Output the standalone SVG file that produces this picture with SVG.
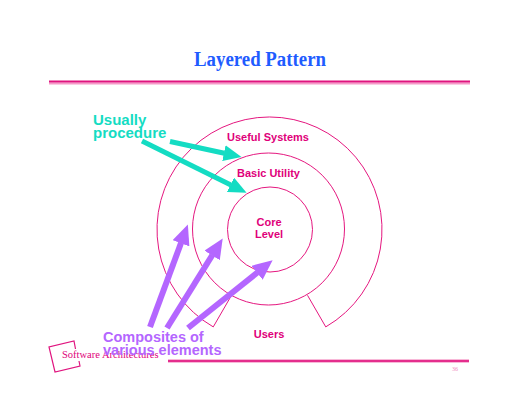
<svg xmlns="http://www.w3.org/2000/svg" width="520" height="402" viewBox="0 0 520 402">
<style>
.ring{fill:none;stroke:#e5177f;stroke-width:1}
.lbl{font-family:"Liberation Sans",Arial,sans-serif;font-weight:bold;font-size:11px;fill:#e0007a;text-anchor:middle}
.cy{font-family:"Liberation Sans",Arial,sans-serif;font-weight:bold;font-size:15px;fill:#14dcc3}
.pu{font-family:"Liberation Sans",Arial,sans-serif;font-weight:bold;font-size:14.5px;fill:#b466ff}
.cyl{stroke:#14dcc3;stroke-width:5;fill:none}
.pul{stroke:#b466ff;stroke-width:6;fill:none}
</style>
<defs>
<marker id="hc" markerUnits="userSpaceOnUse" viewBox="0 0 18 16" refX="0.5" refY="8" markerWidth="18" markerHeight="16" orient="auto"><path d="M0,0 L18,8 L0,16 z" fill="#14dcc3"/></marker>
<marker id="hp" markerUnits="userSpaceOnUse" viewBox="0 0 20 18" refX="0.5" refY="9" markerWidth="20" markerHeight="18" orient="auto"><path d="M0,0 L20,9 L0,18 z" fill="#b466ff"/></marker>
</defs>
<rect width="520" height="402" fill="#ffffff"/>
<g id="header">
<text x="260" y="66" font-family="'Liberation Serif','Times New Roman',serif" font-weight="bold" font-size="20" fill="#1f5cff" text-anchor="middle" textLength="132" lengthAdjust="spacingAndGlyphs">Layered Pattern</text>
<rect x="49" y="80.5" width="421" height="2.2" fill="#e0147f"/>
<rect x="49" y="82.7" width="421" height="1.8" fill="#f59ac8"/>
</g>
<g id="useful-systems">
<path class="ring" d="M213.25 326.9 A112.5 112.5 0 1 1 325.75 326.9 L307.5 295.3 M231.5 295.3 L213.25 326.9"/>
<text class="lbl" x="268" y="141">Useful Systems</text>
</g>
<g id="basic-utility">
<circle class="ring" cx="268.5" cy="229" r="76"/>
<text class="lbl" x="268.5" y="176.5">Basic Utility</text>
</g>
<g id="core-level">
<circle class="ring" cx="270" cy="229.5" r="42.5"/>
<text class="lbl" x="269" y="226">Core</text>
<text class="lbl" x="269" y="238">Level</text>
</g>
<g id="users">
<text class="lbl" x="269" y="337.5">Users</text>
</g>
<g id="connectors">
<line class="cyl" x1="170" y1="141.5" x2="224.4" y2="153.2" marker-end="url(#hc)"/>
<line class="cyl" x1="142" y1="141" x2="230.9" y2="185" marker-end="url(#hc)"/>
<line class="pul" x1="150" y1="327" x2="181.1" y2="242.8" marker-end="url(#hp)"/>
<line class="pul" x1="167" y1="328" x2="212.4" y2="255" marker-end="url(#hp)"/>
<line class="pul" x1="188" y1="328" x2="257.4" y2="272.5" marker-end="url(#hp)"/>
</g>
<g id="usually-procedure">
<text class="cy" x="93" y="125">Usually</text>
<text class="cy" x="93" y="138">procedure</text>
</g>
<g id="footer">
<path d="M75.5 349 L74 341 L49 347 L55 372 L80 366 L79 361" fill="none" stroke="#e0147f" stroke-width="1.2"/>
<text x="62" y="358" font-family="'Liberation Serif','Times New Roman',serif" font-size="10.5" fill="#e0007a">Software Architectures</text>
<rect x="168" y="359.3" width="301" height="3.4" fill="#f59ac8"/>
<rect x="168" y="360.2" width="301" height="1.6" fill="#e0147f"/>
<text x="452" y="371" font-family="'Liberation Serif','Times New Roman',serif" font-size="6" fill="#f08cc0">36</text>
</g>
<g id="composites">
<text class="pu" x="103" y="341.5">Composites of</text>
<text class="pu" x="103" y="355">various elements</text>
</g>
</svg>
